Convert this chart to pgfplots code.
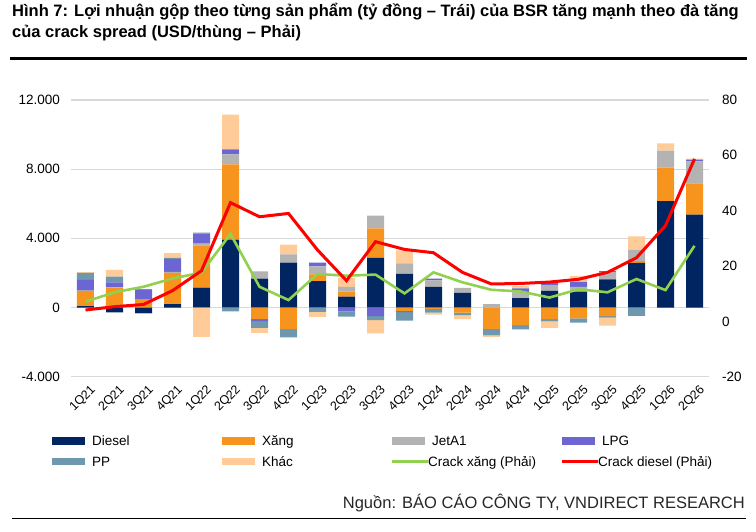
\documentclass[border=0pt]{standalone}
\usepackage{fontspec}
\setmainfont{Liberation Sans}
\usepackage{pgfplots}
\pgfplotsset{compat=1.18}
\usepackage{pgfplotstable}

\definecolor{cDiesel}{HTML}{002560}
\definecolor{cXang}{HTML}{F7941D}
\definecolor{cJet}{HTML}{B3B3B3}
\definecolor{cLPG}{HTML}{6B66D1}
\definecolor{cPP}{HTML}{6E98AE}
\definecolor{cKhac}{HTML}{FFCC99}
\definecolor{cGreen}{HTML}{92D050}
\definecolor{cRed}{HTML}{FF0000}
\definecolor{cGrid}{HTML}{D9D9D9}

% positive parts (ty dong)
\pgfplotstableread{
x D X J L P K
0 80 880 20 620 400 40
1 0 1150 30 270 330 400
2 0 480 0 520 60 0
3 190 1810 60 750 60 270
4 1150 2440 100 580 60 0
5 3920 4350 580 290 0 2020
6 1670 0 420 0 0 0
7 2600 0 480 0 0 560
8 1520 400 460 210 0 0
9 630 290 270 0 0 540
10 2870 1710 730 0 0 0
11 1940 0 615 0 0 750
12 1190 0 380 100 0 0
13 850 0 290 0 0 0
14 0 0 190 0 0 0
15 540 0 330 230 0 130
16 960 0 330 130 0 0
17 920 0 270 290 0 350
18 1630 0 420 60 0 0
19 2580 100 650 0 0 790
20 6150 1940 980 0 0 420
21 5370 1810 1270 100 0 60
}\posdata

% negative parts (ty dong)
\pgfplotstableread{
x D X J L P K
0 0 0 0 0 0 0
1 -280 0 0 0 0 0
2 -330 0 0 0 0 -40
3 0 0 0 0 0 0
4 0 0 0 0 0 -1700
5 0 0 0 0 -230 0
6 0 -670 0 -115 -385 -290
7 0 -1250 0 0 -480 0
8 0 0 0 0 -250 -290
9 0 0 0 -230 -290 0
10 0 0 0 -500 -230 -770
11 0 -210 0 -50 -500 0
12 0 -100 0 0 -200 -110
13 0 -290 0 0 -150 -230
14 0 -1230 0 0 -385 -80
15 0 -1020 0 0 -250 0
16 0 -670 0 0 -130 -370
17 0 -630 0 0 -250 0
18 0 -500 0 0 -80 -460
19 0 0 0 0 -480 0
20 0 0 0 0 0 0
21 0 0 0 0 0 0
}\negdata

% crack spreads (USD/thung)
\pgfplotstableread{
x G R
0 7.1 4.1
1 10.5 5.3
2 12.5 6.1
3 15.5 11.1
4 17.6 18.3
5 31.6 42.9
6 12.5 37.8
7 7.7 39.0
8 17.1 25.8
9 16.5 14.7
10 16.9 28.8
11 10.1 26.0
12 17.7 24.8
13 14.1 17.7
14 11.4 13.5
15 10.8 13.7
16 8.6 14.2
17 11.6 15.2
18 10.5 17.7
19 15.3 23.0
20 11.3 34.6
21 27.3 58.7
}\crackdata

\pgfplotsset{
  base/.style={scale only axis, width=638pt, height=276.7pt,
    at={(71pt,155.3pt)}, anchor=south west,
    xmin=-0.5, xmax=21.5,
    axis line style={draw=none}, tick style={draw=none}},
  swatch/.style={legend image code/.code={\fill[##1, draw=none] (0pt,-3.7pt) rectangle (33pt,3.7pt);}},
  lineimg/.style={legend image code/.code={\path[draw=none, fill=none] (0pt,-3.7pt) rectangle (33pt,3.7pt);\draw[##1,overlay] (0pt,0pt) -- (36pt,0pt);}},
}

\newcommand{\lgent}[1]{\makebox[133pt][l]{\hspace{5pt}\strut #1}}
\newcommand{\lgentl}[1]{\makebox[133pt][l]{\hspace{1pt}\strut #1}}

\begin{document}
\begin{tikzpicture}[x=1pt,y=1pt]
\path (0,0) rectangle (756,532);
\node[anchor=base west, inner sep=0pt, font=\bfseries\fontsize{16.5}{19}\selectfont] at (12,515) {Hình 7: Lợi nhuận gộp theo từng sản phẩm (tỷ đồng – Trái) của BSR tăng mạnh theo đà tăng};
\node[anchor=base west, inner sep=0pt, font=\bfseries\fontsize{16.5}{19}\selectfont] at (12,494) {của crack spread (USD/thùng – Phải)};
\fill[black] (10,472) rectangle (747,475);
\node[anchor=base east, inner sep=0pt, font=\fontsize{16.5}{19}\selectfont, text=black!85] at (745,23) {Nguồn: BÁO CÁO CÔNG TY, VNDIRECT RESEARCH};
\draw[line width=0.8pt] (12,13.5) -- (746,13.5);

% positive stacks + grid + left axis
\begin{axis}[base, ybar stacked, bar width=17pt,
  ymin=-4000, ymax=12000, ytick={-4000,0,4000,8000,12000},
  scaled y ticks=false,
  ymajorgrids, grid style={cGrid, line width=1.3pt},
  xtick={0,...,21},
  xticklabels={1Q21,2Q21,3Q21,4Q21,1Q22,2Q22,3Q22,4Q22,1Q23,2Q23,3Q23,4Q23,1Q24,2Q24,3Q24,4Q24,1Q25,2Q25,3Q25,4Q25,1Q26,2Q26},
  xticklabel style={rotate=45, anchor=north east, inner sep=1pt, yshift=-7pt, xshift=-1pt, font=\fontsize{12.5}{14}\selectfont},
  yticklabel style={inner sep=0pt, xshift=-11pt, font=\fontsize{13.5}{15}\selectfont},
  /pgf/number format/1000 sep={.},
  /pgf/number format/assume math mode=true]
\addplot[fill=cDiesel, draw=none] table[x=x,y=D]{\posdata};
\addplot[fill=cXang, draw=none] table[x=x,y=X]{\posdata};
\addplot[fill=cJet, draw=none] table[x=x,y=J]{\posdata};
\addplot[fill=cLPG, draw=none] table[x=x,y=L]{\posdata};
\addplot[fill=cPP, draw=none] table[x=x,y=P]{\posdata};
\addplot[fill=cKhac, draw=none] table[x=x,y=K]{\posdata};
\end{axis}

% negative stacks
\begin{axis}[base, hide axis, ybar stacked, bar width=17pt,
  ymin=-4000, ymax=12000]
\addplot[fill=cDiesel, draw=none] table[x=x,y=D]{\negdata};
\addplot[fill=cXang, draw=none] table[x=x,y=X]{\negdata};
\addplot[fill=cJet, draw=none] table[x=x,y=J]{\negdata};
\addplot[fill=cLPG, draw=none] table[x=x,y=L]{\negdata};
\addplot[fill=cPP, draw=none] table[x=x,y=P]{\negdata};
\addplot[fill=cKhac, draw=none] table[x=x,y=K]{\negdata};
\end{axis}

% lines, right axis, legend
\begin{axis}[base, ymin=-20, ymax=80, ytick={-20,0,20,40,60,80},
  yticklabel pos=right, xtick=\empty,
  yticklabel style={inner sep=0pt, anchor=west, xshift=13pt, font=\fontsize{13.5}{15}\selectfont},
  /pgf/number format/assume math mode=true,
  legend columns=4,
  legend style={at={(axis description cs:-0.0298,-0.2017)}, anchor=north west,
    draw=none, fill=none, inner sep=0pt, row sep=4pt,
    font=\fontsize{13.5}{16}\selectfont},
  legend cell align=left]
\addlegendimage{swatch, fill=cDiesel}
\addlegendentry{\lgent{Diesel}}
\addlegendimage{swatch, fill=cXang}
\addlegendentry{\lgent{Xăng}}
\addlegendimage{swatch, fill=cJet}
\addlegendentry{\lgent{JetA1}}
\addlegendimage{swatch, fill=cLPG}
\addlegendentry{\lgent{LPG}}
\addlegendimage{swatch, fill=cPP}
\addlegendentry{\lgent{PP}}
\addlegendimage{swatch, fill=cKhac}
\addlegendentry{\lgent{Khác}}
\addplot[cGreen, line width=2.6pt, mark=none, lineimg] table[x=x,y=G]{\crackdata};
\addlegendentry{\lgentl{Crack xăng (Phải)}}
\addplot[cRed, line width=3pt, mark=none, lineimg] table[x=x,y=R]{\crackdata};
\addlegendentry{\lgentl{Crack diesel (Phải)}}
\end{axis}
\end{tikzpicture}
\end{document}
